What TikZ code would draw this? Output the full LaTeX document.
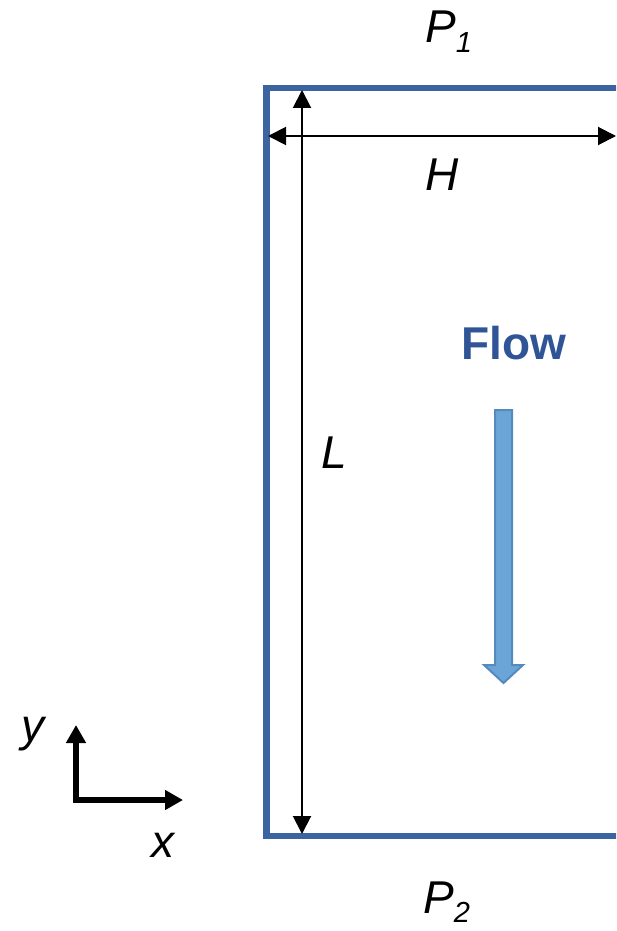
\documentclass[tikz,border=0pt]{standalone}
\usepackage{fontspec}
\setmainfont{Liberation Sans}
\usetikzlibrary{arrows.meta}
\definecolor{boxblue}{RGB}{60,100,160}
\definecolor{flowtext}{RGB}{47,85,151}
\definecolor{flowfill}{RGB}{107,165,215}
\definecolor{flowedge}{RGB}{85,138,190}
\tikzset{
  lbl/.style={inner sep=0pt, anchor=base west, font=\fontsize{46}{46}\selectfont\itshape},
  dimline/.style={line width=2pt, {Triangle[length=18pt,width=18pt]}-{Triangle[length=18pt,width=18pt]}},
  axisline/.style={line width=6pt, -{Triangle[length=18pt,width=19pt]}},
}
\newcommand{\subdrop}[2]{\raisebox{-#1}{\fontsize{29}{29}\selectfont\itshape #2}}
\begin{document}
\begin{tikzpicture}[x=1pt,y=-1pt]
\useasboundingbox (0,0) rectangle (616,931);
\clip (0,0) rectangle (616,931);
% channel
\draw[boxblue, line width=6.5pt, line join=miter] (650,88) -- (266.5,88) -- (266.5,836) -- (650,836);
% dimension arrows
\coordinate (vt) at (302,90);
\coordinate (vb) at (302,834);
\coordinate (hl) at (268,136);
\coordinate (hr) at (616,136);
\draw[dimline] (vt) -- (vb);
\draw[dimline] (hl) -- (hr);
% labels
\node[lbl] (p1) at (425,43) {P\subdrop{10pt}{1}};
\node[lbl] (h) at (425,190) {H};
\node[lbl] (l) at (321,468) {L};
\node[lbl] (p2) at (423,913) {P\subdrop{9pt}{2}};
\node[inner sep=0pt, anchor=base west, font=\fontsize{46}{46}\selectfont\bfseries, text=flowtext] (flow) at (461,359) {Flow};
% flow arrow
\filldraw[fill=flowfill, draw=flowedge, line width=2pt, line join=miter]
  (495,410) -- (512,410) -- (512,665) -- (523,665) -- (503.5,683) -- (484,665) -- (495,665) -- cycle;
% axes
\coordinate (o) at (76,800);
\coordinate (ytip) at (76,725);
\coordinate (xtip) at (183,800);
\draw[axisline] ([yshift=3pt]o) -- (ytip);
\draw[axisline] ([xshift=-3pt]o) -- (xtip);
\node[lbl] (ylab) at (21,741) {y};
\node[lbl] (xlab) at (151,857) {x};
\end{tikzpicture}
\end{document}
